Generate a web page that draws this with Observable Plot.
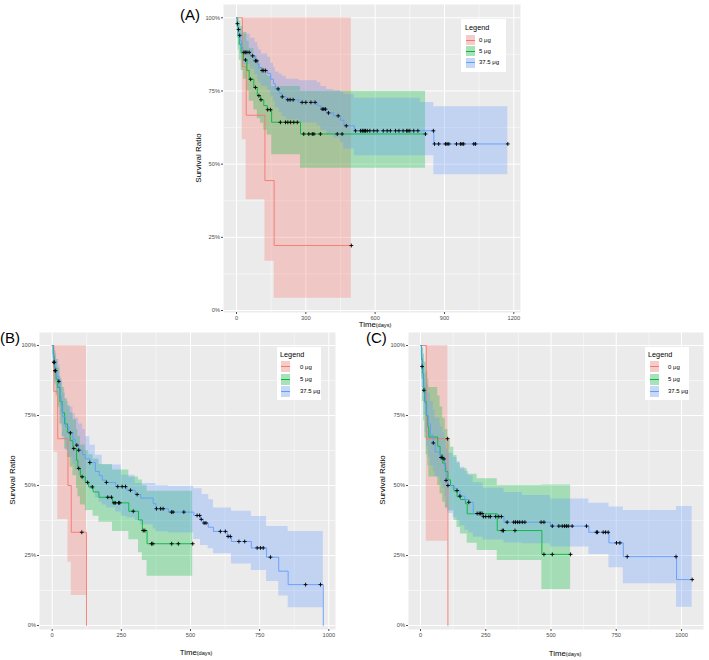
<!DOCTYPE html>
<html><head><meta charset="utf-8">
<script src="https://cdn.jsdelivr.net/npm/d3@7"></script>
<script src="https://cdn.jsdelivr.net/npm/@observablehq/plot@0.6"></script>
<style>
body{margin:0;background:#fff;font-family:"Liberation Sans",Arial,sans-serif;}
#wrap{position:relative;width:709px;height:660px;overflow:hidden;}
.pl{position:absolute;}
.plab{position:absolute;font-size:15px;line-height:1;color:#000;}
.ytitle{position:absolute;font-size:8px;line-height:1;color:#000;white-space:nowrap;transform:translate(-50%,-50%) rotate(-90deg);}
.xtitle{position:absolute;font-size:7.8px;line-height:1;color:#000;white-space:nowrap;transform:translateX(-50%);}
.xtitle span{font-size:5.6px;}
.leg{position:absolute;background:#fff;}
.leg .t{position:absolute;font-size:7.3px;line-height:1;color:#000;}
.leg .k{position:absolute;background:#f2f2f2;overflow:hidden;}
.leg .k i{position:absolute;left:0;right:0;top:0;bottom:0;}
.leg .k b{position:absolute;left:0;right:0;top:50%;height:1px;margin-top:-0.5px;}
.leg .l{position:absolute;font-size:6px;line-height:1;color:#000;white-space:nowrap;}
</style></head>
<body><div id="wrap"></div>
<script>
// ---------- data ----------
const groups = ["0 μg", "5 μg", "37.5 μg"];
const colors = ["#F8766D", "#00BA38", "#619CFF"];
const yTicks = [0, 0.25, 0.5, 0.75, 1];
const yMinor = [0.125, 0.375, 0.625, 0.875];
const xTicksA = [0, 300, 600, 900, 1200];
const xMinorA = [150, 450, 750, 1050];
const xTicksBC = [0, 250, 500, 750, 1000];
const xMinorBC = [125, 375, 625, 875];

// rows: [time, survival, lower, upper]
const A_0 = [[0,1,1,1],[25,0.833,0.583,1],[42,0.667,0.378,1],[123,0.444,0.168,1],[163,0.222,0.042,1],[497,0.222,0.042,1]];
const A_0_cens = [497];
const A_5 = [[0,1,1,1],[3,0.97,0.93,1],[7,0.94,0.89,1],[12,0.91,0.855,0.99],[20,0.88,0.82,0.97],[30,0.856,0.79,0.95],[45,0.82,0.75,0.92],[55,0.79,0.715,0.895],[75,0.762,0.685,0.87],[90,0.734,0.655,0.845],[104,0.72,0.64,0.83],[118,0.70,0.615,0.815],[133,0.686,0.60,0.80],[152,0.643,0.532,0.765],[277,0.603,0.486,0.749],[818,0.603,0.486,0.749]];
const A_5_cens = [39,61,82,97,106,135,147,190,212,222,234,248,263,291,313,328,335,363,436,457,818];
const A_375 = [[0,1,1,1],[3,0.98,0.96,1],[6,0.96,0.93,0.995],[10,0.94,0.905,0.98],[16,0.92,0.88,0.965],[22,0.9,0.86,0.955],[28,0.882,0.84,0.945],[60,0.87,0.825,0.93],[80,0.853,0.805,0.916],[92,0.84,0.79,0.90],[97,0.83,0.778,0.89],[108,0.82,0.765,0.876],[135,0.81,0.752,0.865],[148,0.79,0.73,0.845],[160,0.775,0.712,0.83],[168,0.757,0.692,0.815],[185,0.742,0.676,0.808],[198,0.73,0.662,0.8],[215,0.72,0.652,0.79],[270,0.711,0.641,0.785],[350,0.70,0.63,0.779],[365,0.688,0.615,0.765],[390,0.675,0.6,0.755],[420,0.665,0.589,0.751],[450,0.65,0.573,0.745],[465,0.631,0.552,0.738],[510,0.614,0.529,0.725],[796,0.614,0.529,0.711],[854,0.569,0.464,0.696],[1174,0.569,0.464,0.696]];
const A_375_cens = [4,9,14,32,38,45,55,70,82,88,111,118,126,180,198,222,232,245,284,300,322,340,371,378,385,398,440,475,515,537,544,548,555,558,566,577,594,609,635,652,666,688,703,721,736,742,750,767,785,852,857,875,904,911,919,952,969,976,983,1027,1034,1174];

const B_0 = [[0,1,1,1],[6,0.836,0.619,1],[20,0.667,0.379,1],[57,0.5,0.226,1],[69,0.333,0.107,1],[124,0,0.107,1]];
const B_0_cens = [107];
const B_5 = [[0,1,1,1],[4,0.96,0.92,1],[8,0.92,0.87,0.98],[14,0.88,0.82,0.95],[20,0.85,0.78,0.92],[28,0.80,0.72,0.88],[36,0.76,0.675,0.85],[45,0.72,0.63,0.81],[55,0.69,0.60,0.785],[65,0.66,0.565,0.76],[75,0.632,0.535,0.735],[88,0.59,0.49,0.70],[93,0.561,0.46,0.675],[102,0.531,0.43,0.645],[120,0.511,0.41,0.625],[132,0.495,0.411,0.61],[148,0.477,0.39,0.595],[169,0.458,0.369,0.575],[218,0.438,0.336,0.555],[277,0.408,0.306,0.53],[312,0.377,0.26,0.52],[326,0.339,0.232,0.5],[343,0.292,0.176,0.479],[508,0.292,0.176,0.479]];
const B_5_cens = [78,96,108,128,145,201,214,223,228,240,244,293,329,335,359,364,432,456,508];
const B_375 = [[0,1,1,1],[3,0.97,0.93,1],[6,0.94,0.89,0.99],[10,0.91,0.86,0.97],[16,0.89,0.83,0.95],[24,0.872,0.81,0.93],[28,0.82,0.75,0.89],[32,0.789,0.715,0.87],[38,0.745,0.665,0.83],[48,0.71,0.625,0.80],[60,0.688,0.60,0.78],[75,0.664,0.575,0.755],[84,0.644,0.555,0.74],[96,0.626,0.535,0.72],[110,0.61,0.515,0.70],[120,0.595,0.50,0.674],[136,0.582,0.485,0.644],[156,0.55,0.455,0.608],[170,0.535,0.44,0.608],[181,0.519,0.43,0.573],[196,0.511,0.42,0.573],[230,0.496,0.405,0.573],[250,0.496,0.39,0.537],[270,0.483,0.385,0.537],[300,0.468,0.375,0.507],[320,0.455,0.36,0.507],[365,0.435,0.345,0.507],[375,0.417,0.335,0.5],[420,0.405,0.33,0.497],[512,0.393,0.307,0.488],[536,0.379,0.286,0.488],[542,0.379,0.286,0.468],[546,0.366,0.286,0.468],[564,0.351,0.274,0.468],[566,0.351,0.274,0.449],[583,0.336,0.256,0.42],[633,0.318,0.256,0.42],[648,0.30,0.22,0.408],[720,0.277,0.196,0.389],[775,0.244,0.157,0.354],[819,0.194,0.105,0.354],[853,0.146,0.063,0.336],[980,0,0.063,0.336]];
const B_375_cens = [6,8,10,12,24,66,89,96,136,196,237,253,265,283,307,377,392,401,431,437,476,524,533,539,549,556,608,626,636,644,675,696,741,753,763,789,916,970];

const C_0 = [[0,1,1,1],[22,0.667,0.301,1],[105,0,0.301,1]];
const C_0_cens = [104];
const C_5 = [[0,1,1,1],[4,0.95,0.88,1],[8,0.90,0.80,0.99],[12,0.85,0.73,0.97],[16,0.80,0.67,0.94],[22,0.75,0.61,0.91],[28,0.71,0.57,0.88],[32,0.673,0.53,0.85],[66,0.64,0.50,0.82],[75,0.61,0.47,0.78],[85,0.58,0.44,0.74],[95,0.55,0.42,0.70],[105,0.52,0.41,0.66],[115,0.50,0.41,0.637],[128,0.48,0.375,0.607],[140,0.46,0.35,0.58],[153,0.45,0.327,0.56],[172,0.435,0.327,0.56],[179,0.399,0.294,0.54],[217,0.399,0.268,0.524],[294,0.339,0.232,0.50],[465,0.254,0.129,0.502],[575,0.254,0.129,0.502]];
const C_5_cens = [313,318,362,473,505,575];
const C_375 = [[0,1,1,1],[3,0.96,0.9,1],[6,0.925,0.85,0.99],[10,0.88,0.80,0.97],[13,0.84,0.75,0.94],[18,0.79,0.69,0.90],[24,0.75,0.64,0.86],[30,0.72,0.60,0.83],[38,0.68,0.57,0.80],[49,0.652,0.55,0.77],[56,0.62,0.53,0.74],[75,0.60,0.51,0.71],[85,0.595,0.49,0.69],[93,0.57,0.46,0.67],[98,0.518,0.42,0.63],[105,0.50,0.40,0.615],[125,0.49,0.385,0.60],[140,0.482,0.375,0.585],[151,0.462,0.355,0.565],[170,0.45,0.34,0.55],[185,0.44,0.33,0.535],[202,0.40,0.315,0.51],[240,0.389,0.305,0.49],[320,0.369,0.295,0.475],[390,0.369,0.292,0.464],[498,0.355,0.28,0.452],[645,0.333,0.254,0.437],[722,0.295,0.206,0.423],[777,0.246,0.149,0.411],[981,0.164,0.065,0.425],[1041,0.164,0.065,0.425]];
const C_375_cens = [6,13,49,79,83,90,98,105,140,151,185,217,225,230,236,241,250,262,268,288,300,310,332,357,364,372,380,390,400,462,473,505,530,543,552,559,566,581,636,674,678,700,709,719,751,764,792,979,1041];

// ---------- drawing ----------
const wrap = document.getElementById("wrap");
function sAt(rows, t) { let s = rows[0][1]; for (const r of rows) { if (r[0] <= t) s = r[1]; else break; } return s; }

function panel(cfg) {
  const marks = [
    Plot.frame({fill: "#EBEBEB", stroke: "none"}),
    Plot.gridX(cfg.xMinor, {stroke: "#fff", strokeOpacity: 1, strokeWidth: 0.5}),
    Plot.gridY(yMinor, {stroke: "#fff", strokeOpacity: 1, strokeWidth: 0.5}),
    Plot.gridX(cfg.xTicks, {stroke: "#fff", strokeOpacity: 1, strokeWidth: 1}),
    Plot.gridY(yTicks, {stroke: "#fff", strokeOpacity: 1, strokeWidth: 1})
  ];
  cfg.series.forEach((rows, i) => marks.push(Plot.areaY(rows, {x: d => d[0], y1: d => d[2], y2: d => d[3], curve: "step-after", fill: colors[i], fillOpacity: 0.3})));
  cfg.series.forEach((rows, i) => marks.push(Plot.line(rows, {x: d => d[0], y: d => d[1], curve: "step-after", stroke: colors[i], strokeWidth: 0.9})));
  cfg.series.forEach((rows, i) => marks.push(Plot.dot(cfg.cens[i].map(t => [t, sAt(rows, t)]), {x: d => d[0], y: d => d[1], symbol: "plus", r: 1.35, stroke: "#000", strokeWidth: 0.9})));
  marks.push(Plot.axisX(cfg.xTicks, {tickSize: 2, tickPadding: 1.5, fontSize: 5.7, label: null, tickFormat: d => String(d)}));
  marks.push(Plot.axisY(yTicks, {tickSize: 2, tickPadding: 1.5, fontSize: 5.7, label: null, tickFormat: d => Math.round(d * 100) + "%"}));
  const svg = Plot.plot({
    width: cfg.w, height: cfg.h,
    marginLeft: cfg.ml, marginRight: cfg.mr, marginTop: cfg.mt, marginBottom: cfg.mb,
    x: {domain: cfg.xd}, y: {domain: cfg.yd},
    style: {background: "transparent", fontFamily: "Liberation Sans, Arial, sans-serif", fontSize: "5.7px", color: "#4d4d4d", overflow: "visible"},
    marks
  });
  svg.classList.add("pl");
  svg.style.position = "absolute";
  svg.style.left = cfg.left + "px";
  svg.style.top = cfg.top + "px";
  svg.style.maxWidth = "none";
  wrap.appendChild(svg);
}

function el(cls, html, css) { const d = document.createElement("div"); d.className = cls; d.innerHTML = html; Object.assign(d.style, css); wrap.appendChild(d); return d; }

function legend(c) {
  const box = el("leg", "", {left: c.x + "px", top: c.y + "px", width: c.w + "px", height: c.h + "px"});
  const t = document.createElement("div"); t.className = "t"; t.textContent = "Legend";
  Object.assign(t.style, {left: c.tx + "px", top: c.ty + "px"}); box.appendChild(t);
  groups.forEach((g, i) => {
    const k = document.createElement("div"); k.className = "k";
    Object.assign(k.style, {left: c.kx + "px", top: (c.ky[i] - c.kh / 2) + "px", width: c.kw + "px", height: c.kh + "px"});
    k.innerHTML = `<i style="background:${colors[i]};opacity:0.3"></i><b style="background:${colors[i]}"></b>`;
    box.appendChild(k);
    const l = document.createElement("div"); l.className = "l"; l.textContent = g;
    Object.assign(l.style, {left: c.lx + "px", top: (c.ky[i] - 3.2) + "px"}); box.appendChild(l);
  });
}

// Panel A : frame x 223..520, y 4..312
panel({series: [A_0, A_5, A_375], cens: [A_0_cens, A_5_cens, A_375_cens],
  xTicks: xTicksA, xMinor: xMinorA, xd: [-56.26, 1228.98], yd: [-0.0068, 1.0454],
  left: 170, top: 0, w: 360, h: 330, ml: 53, mr: 10, mt: 4, mb: 18});
// Panel B : frame x 39..335, y 332..629
panel({series: [B_0, B_5, B_375], cens: [B_0_cens, B_5_cens, B_375_cens],
  xTicks: xTicksBC, xMinor: xMinorBC, xd: [-45.9, 1024.2], yd: [-0.0143, 1.0464],
  left: 0, top: 330, w: 345, h: 330, ml: 39, mr: 10, mt: 2, mb: 31});
// Panel C : frame x 408..703, y 332..629
panel({series: [C_0, C_5, C_375], cens: [C_0_cens, C_5_cens, C_375_cens],
  xTicks: xTicksBC, xMinor: xMinorBC, xd: [-46.0, 1084.3], yd: [-0.0143, 1.0464],
  left: 360, top: 330, w: 349, h: 330, ml: 48, mr: 6, mt: 2, mb: 31});

// panel labels
el("plab", "(A)", {left: "180px", top: "6.5px"});
el("plab", "(B)", {left: "0px", top: "329.5px"});
el("plab", "(C)", {left: "366px", top: "330px"});
// axis titles
el("ytitle", "Survival Ratio", {left: "199px", top: "158px"});
el("ytitle", "Survival Ratio", {left: "13px", top: "480px"});
el("ytitle", "Survival Ratio", {left: "383px", top: "480px"});
el("xtitle", "Time<span>(days)</span>", {left: "375px", top: "321px"});
el("xtitle", "Time<span>(days)</span>", {left: "196px", top: "649px"});
el("xtitle", "Time<span>(days)</span>", {left: "565px", top: "650px"});
// legends
legend({x: 461, y: 19, w: 45, h: 53, tx: 4, ty: 4.5, kx: 4.5, kw: 9, kh: 10, ky: [21, 32, 43.5], lx: 18});
legend({x: 277, y: 347, w: 44, h: 52.5, tx: 3, ty: 3.5, kx: 4, kw: 9, kh: 11, ky: [19.7, 32.3, 44], lx: 23});
legend({x: 645, y: 347, w: 44, h: 52.5, tx: 3, ty: 3.5, kx: 5, kw: 9, kh: 11, ky: [19.7, 32.3, 44], lx: 23});
</script></body></html>
